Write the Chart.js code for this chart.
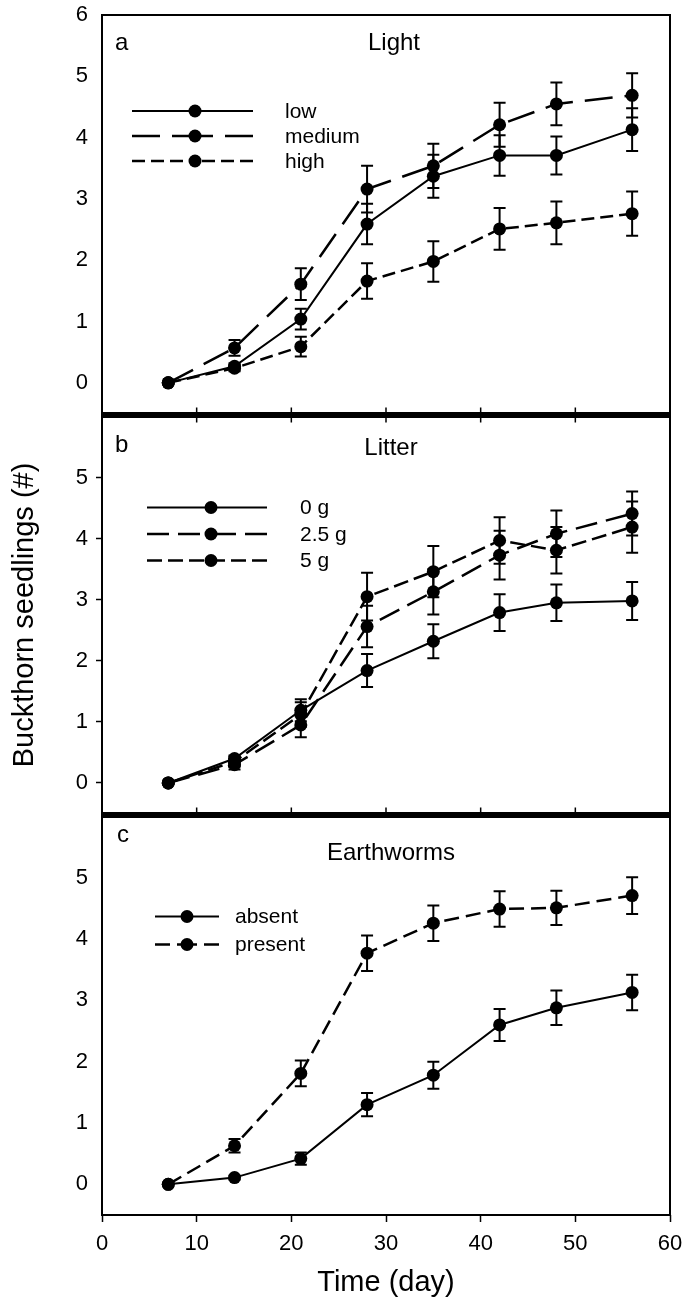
<!DOCTYPE html>
<html>
<head>
<meta charset="utf-8">
<script src="https://cdn.jsdelivr.net/npm/chart.js@4.4.1/dist/chart.umd.min.js"></script>
<style>
  html, body { margin: 0; padding: 0; background: #fff; }
  #wrap { position: relative; width: 684px; height: 1304px; overflow: hidden; background: #fff; }
  .panel { position: absolute; left: 0; }
</style>
</head>
<body>
<div id="wrap">
  <canvas id="chartA" class="panel" width="684" height="420" style="top:0px"></canvas>
  <canvas id="chartB" class="panel" width="684" height="410" style="top:410px"></canvas>
  <canvas id="chartC" class="panel" width="684" height="494" style="top:810px"></canvas>
</div>
<script>
// sampling days
var days = [7, 14, 21, 28, 35, 42, 48, 56];

// a - light
var lightLow = [0, 0.27, 1.04, 2.59, 3.37, 3.71, 3.71, 4.13];
var lightLowErr = [0, 0.05, 0.17, 0.33, 0.35, 0.33, 0.31, 0.35];
var lightMedium = [0, 0.57, 1.61, 3.16, 3.54, 4.21, 4.55, 4.69];
var lightMediumErr = [0, 0.13, 0.26, 0.38, 0.36, 0.36, 0.35, 0.36];
var lightHigh = [0, 0.24, 0.59, 1.66, 1.98, 2.51, 2.61, 2.76];
var lightHighErr = [0, 0.05, 0.16, 0.29, 0.33, 0.34, 0.35, 0.36];

// b - litter
var litter0 = [0, 0.40, 1.19, 1.84, 2.32, 2.79, 2.95, 2.98];
var litter0Err = [0, 0.05, 0.18, 0.27, 0.28, 0.30, 0.30, 0.31];
var litter25 = [0, 0.30, 0.95, 2.56, 3.13, 3.73, 4.08, 4.41];
var litter25Err = [0, 0.08, 0.20, 0.34, 0.37, 0.40, 0.38, 0.36];
var litter5 = [0, 0.35, 1.12, 3.05, 3.46, 3.97, 3.81, 4.19];
var litter5Err = [0, 0.08, 0.20, 0.39, 0.42, 0.38, 0.38, 0.42];

// c - earthworms
var wormAbsent = [0, 0.11, 0.42, 1.30, 1.78, 2.60, 2.88, 3.13];
var wormAbsentErr = [0, 0.03, 0.10, 0.19, 0.22, 0.26, 0.28, 0.29];
var wormPresent = [0, 0.63, 1.81, 3.77, 4.26, 4.49, 4.51, 4.71];
var wormPresentErr = [0, 0.11, 0.21, 0.29, 0.29, 0.29, 0.28, 0.30];

// tick labels
var yTicksTop = [0, 1, 2, 3, 4, 5, 6];
var yTicks = [0, 1, 2, 3, 4, 5];
var xTicks = [0, 10, 20, 30, 40, 50, 60];
var xInnerTicks = [10, 20, 30, 40, 50];

var FONT = '"Liberation Sans", Arial, Helvetica, sans-serif';
Chart.defaults.font.family = FONT;
Chart.defaults.color = '#000';

function points(values) {
    return days.map(function(d, i) { return { x: d, y: values[i] }; });
}

function series(label, values, errors, dash) {
    return {
        label: label,
        data: points(values),
        errors: errors,
        borderColor: '#000',
        backgroundColor: '#000',
        pointBackgroundColor: '#000',
        pointBorderWidth: 0,
        pointRadius: 6.5,
        pointHoverRadius: 6.5,
        borderWidth: dash.length ? 2.5 : 2,
        borderDash: dash,
        tension: 0,
        fill: false
    };
}

var errorBarPlugin = {
    id: 'errorBars',
    beforeDatasetsDraw: function(chart) {
        var ctx = chart.ctx;
        var ys = chart.scales.y;
        ctx.save();
        ctx.strokeStyle = '#000';
        ctx.lineWidth = 2;
        chart.data.datasets.forEach(function(ds, i) {
            var meta = chart.getDatasetMeta(i);
            meta.data.forEach(function(pt, j) {
                var e = ds.errors[j];
                if (!e) return;
                var top = ys.getPixelForValue(ds.data[j].y + e);
                var bot = ys.getPixelForValue(ds.data[j].y - e);
                ctx.beginPath();
                ctx.moveTo(pt.x, top); ctx.lineTo(pt.x, bot);
                ctx.moveTo(pt.x - 6, top); ctx.lineTo(pt.x + 6, top);
                ctx.moveTo(pt.x - 6, bot); ctx.lineTo(pt.x + 6, bot);
                ctx.stroke();
            });
        });
        ctx.restore();
    }
};

var framePlugin = {
    id: 'frame',
    afterDraw: function(chart, args, o) {
        var a = chart.chartArea;
        var ctx = chart.ctx;
        var xs = chart.scales.x;
        ctx.save();
        ctx.strokeStyle = '#000';
        ctx.lineWidth = 2;
        ctx.beginPath();
        ctx.moveTo(a.left, a.top); ctx.lineTo(a.left, a.bottom);
        ctx.moveTo(a.right, a.top); ctx.lineTo(a.right, a.bottom);
        ctx.stroke();
        ctx.lineWidth = o.topWidth;
        ctx.beginPath();
        ctx.moveTo(a.left - 1, a.top); ctx.lineTo(a.right + 1, a.top);
        ctx.stroke();
        ctx.lineWidth = o.bottomWidth;
        ctx.beginPath();
        ctx.moveTo(a.left - 1, a.bottom); ctx.lineTo(a.right + 1, a.bottom);
        ctx.stroke();
        // small inward ticks where panels meet
        ctx.lineWidth = 1.5;
        ctx.beginPath();
        xInnerTicks.forEach(function(v) {
            var px = xs.getPixelForValue(v);
            if (o.tickTop) { ctx.moveTo(px, a.top); ctx.lineTo(px, a.top + 6); }
            if (o.tickBottom) { ctx.moveTo(px, a.bottom); ctx.lineTo(px, a.bottom - 6); }
        });
        ctx.stroke();
        ctx.restore();
    }
};

var legendPlugin = {
    id: 'panelLegend',
    afterDraw: function(chart, args, o) {
        var ctx = chart.ctx;
        var a = chart.chartArea;
        ctx.save();
        ctx.strokeStyle = '#000';
        ctx.fillStyle = '#000';
        chart.data.datasets.forEach(function(ds, i) {
            var y = a.top + o.top + i * o.gap;
            ctx.lineWidth = ds.borderWidth;
            ctx.setLineDash(ds.borderDash);
            ctx.beginPath();
            ctx.moveTo(o.x1, y); ctx.lineTo(o.xm, y);
            ctx.stroke();
            ctx.beginPath();
            ctx.moveTo(o.x2, y); ctx.lineTo(o.xm, y);
            ctx.stroke();
            ctx.setLineDash([]);
            ctx.beginPath();
            ctx.arc(o.xm, y, ds.pointRadius, 0, Math.PI * 2);
            ctx.fill();
            ctx.font = '21px ' + FONT;
            ctx.textAlign = 'left';
            ctx.textBaseline = 'middle';
            ctx.fillText(ds.label, o.xl, y + 1);
        });
        ctx.font = '24px ' + FONT;
        ctx.textBaseline = 'alphabetic';
        ctx.textAlign = 'left';
        ctx.fillText(o.tag, o.tagX, a.top + o.tagY);
        ctx.textAlign = 'center';
        ctx.fillText(o.title, o.titleX, a.top + o.titleY);
        ctx.restore();
    }
};

function yAxis(tickValues, marks, title) {
    return {
        type: 'linear',
        min: -0.5,
        max: 6,
        afterBuildTicks: function(s) {
            s.ticks = tickValues.map(function(v) { return { value: v }; });
        },
        afterFit: function(s) {
            s.width = 102;
            s.paddingTop = 0;
            s.paddingBottom = 0;
        },
        ticks: { font: { size: 22 }, color: '#000', padding: 8 },
        grid: {
            drawOnChartArea: false,
            tickLength: 6,
            tickWidth: 1.5,
            tickColor: marks ? '#000' : 'rgba(0,0,0,0)'
        },
        border: { display: false },
        title: {
            display: !!title,
            text: title || '',
            font: { size: 29 },
            color: '#000',
            padding: { top: 8, bottom: 0 }
        }
    };
}

function xAxisHidden() {
    return { type: 'linear', min: 0, max: 60, display: false };
}

function xAxisShown() {
    return {
        type: 'linear',
        min: 0,
        max: 60,
        afterBuildTicks: function(s) {
            s.ticks = xTicks.map(function(v) { return { value: v }; });
        },
        afterFit: function(s) {
            s.height = 89;
            s.paddingLeft = 0;
            s.paddingRight = 0;
        },
        ticks: { font: { size: 22 }, color: '#000', padding: 9, maxRotation: 0 },
        grid: { drawOnChartArea: false, tickLength: 7, tickWidth: 1.5, tickColor: '#000' },
        border: { display: false },
        title: {
            display: true,
            text: 'Time (day)',
            font: { size: 29 },
            color: '#000',
            padding: { top: 0, bottom: 4 }
        }
    };
}

function makeChart(id, datasets, yOpts, xOpts, padding, frame, legend) {
    return new Chart(document.getElementById(id), {
        type: 'line',
        data: { datasets: datasets },
        options: {
            responsive: false,
            animation: false,
            events: [],
            layout: { padding: padding },
            scales: { x: xOpts, y: yOpts },
            plugins: {
                legend: { display: false },
                tooltip: { enabled: false },
                frame: frame,
                panelLegend: legend
            }
        },
        plugins: [errorBarPlugin, framePlugin, legendPlugin]
    });
}

makeChart('chartA', [
    series('low', lightLow, lightLowErr, []),
    series('medium', lightMedium, lightMediumErr, [28, 12]),
    series('high', lightHigh, lightHighErr, [13, 6])
], yAxis(yTicksTop, false), xAxisHidden(),
   { top: 15, bottom: 5, left: 0, right: 14 },
   { topWidth: 2, bottomWidth: 3, tickTop: false, tickBottom: true },
   { top: 96, gap: 25, x1: 132, x2: 253, xm: 195, xl: 285,
     tag: 'a', tagX: 115, tagY: 35, title: 'Light', titleX: 394, titleY: 35 });

makeChart('chartB', [
    series('0 g', litter0, litter0Err, []),
    series('2.5 g', litter25, litter25Err, [22, 9]),
    series('5 g', litter5, litter5Err, [15, 6])
], yAxis(yTicks, true, 'Buckthorn seedlings (#)'), xAxisHidden(),
   { top: 5, bottom: 5, left: 0, right: 14 },
   { topWidth: 3, bottomWidth: 3, tickTop: true, tickBottom: true },
   { top: 91, gap: 26.5, x1: 147, x2: 267, xm: 211, xl: 300,
     tag: 'b', tagX: 115, tagY: 35, title: 'Litter', titleX: 391, titleY: 38 });

makeChart('chartC', [
    series('absent', wormAbsent, wormAbsentErr, []),
    series('present', wormPresent, wormPresentErr, [15, 7])
], yAxis(yTicks, false), xAxisShown(),
   { top: 5, bottom: 0, left: 0, right: 14 },
   { topWidth: 3, bottomWidth: 2, tickTop: false, tickBottom: false },
   { top: 100, gap: 28, x1: 155, x2: 219, xm: 187, xl: 235,
     tag: 'c', tagX: 117, tagY: 25, title: 'Earthworms', titleX: 391, titleY: 43 });
</script>
</body>
</html>
